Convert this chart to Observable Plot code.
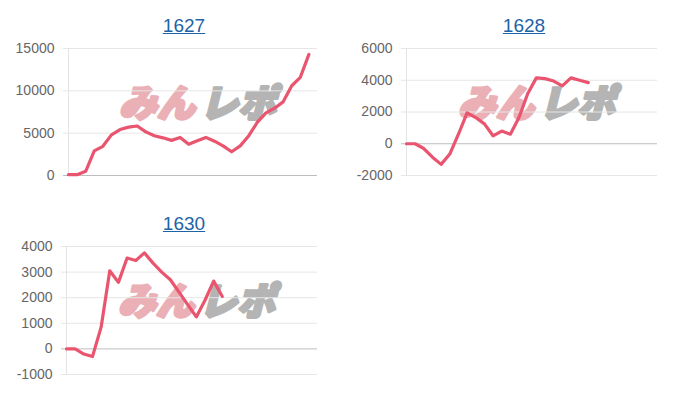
<!DOCTYPE html>
<html>
<head>
<meta charset="utf-8">
<script src="https://cdn.jsdelivr.net/npm/d3@7"></script>
<script src="https://cdn.jsdelivr.net/npm/@observablehq/plot@0.6"></script>
<style>
  body { margin: 0; background: #fff; }
  #root { position: relative; width: 700px; height: 400px; font-family: Arial, "Liberation Sans", sans-serif; }
  .title { position: absolute; width: 120px; text-align: center; font-size: 19px; line-height: 19px;
           color: #1d64a6; text-decoration: underline; }
  .chart { position: absolute; }
</style>
</head>
<body>
<div id="root"></div>
<script>
// ---- data ----
const titles = ["1627", "1628", "1630"];
const xLabelCount = 30;

const values1627 = [100, 100, 500, 2900, 3450, 4800, 5430, 5710, 5850, 5150,
                    4700, 4450, 4150, 4500, 3700, 4100, 4500, 4050, 3500, 2800,
                    3500, 4700, 6300, 7400, 7950, 8700, 10600, 11600, 14300];
const values1628 = [0, 0, -300, -850, -1300, -650, 600, 1950, 1650, 1250,
                    500, 800, 600, 1650, 3150, 4150, 4100, 3950, 3650, 4150,
                    4000, 3850];
const values1630 = [0, 0, -200, -300, 850, 3050, 2600, 3550, 3450, 3750,
                    3350, 3000, 2700, 2220, 1730, 1250, 1900, 2650, 2050];

const ticks1627 = [0, 5000, 10000, 15000];
const ticks1628 = [-2000, 0, 2000, 4000, 6000];
const ticks1630 = [-1000, 0, 1000, 2000, 3000, 4000];

const watermarkA = "みん";
const watermarkB = "レポ";

// ---- layout ----
const charts = [
  {title: titles[0], values: values1627, ticks: ticks1627, left: 0,   top: 40,  titleTop: 16,  height: 145, marginLeft: 68},
  {title: titles[1], values: values1628, ticks: ticks1628, left: 340, top: 40,  titleTop: 16,  height: 145, marginLeft: 66},
  {title: titles[2], values: values1630, ticks: ticks1630, left: 0,   top: 238, titleTop: 214, height: 146, marginLeft: 66}
];

const root = document.getElementById("root");
const lineColor = "#e9546e";

for (const c of charts) {
  const t = document.createElement("div");
  t.className = "title";
  t.textContent = c.title;
  t.style.left = (c.left + 124) + "px";
  t.style.top = c.titleTop + "px";
  root.appendChild(t);

  const ticks = c.ticks;
  const plot = Plot.plot({
    width: 340,
    height: c.height,
    marginTop: 8,
    marginBottom: 10,
    marginLeft: c.marginLeft,
    marginRight: 23,
    style: {fontFamily: 'Arial, "Liberation Sans", sans-serif', fontSize: "14px", color: "#666", background: "transparent"},
    x: {domain: [0, xLabelCount - 1], axis: null},
    y: {domain: [ticks[0], ticks[ticks.length - 1]], axis: null},
    marks: [
      Plot.text([watermarkA], {frameAnchor: "middle", dx: -36, dy: -7.5, text: d => d,
        fontSize: 38, fontWeight: 900, fontStyle: "italic", fill: "#eab0b6", stroke: "#eab0b6", strokeWidth: 3,
        fontFamily: '"Noto Sans CJK JP", sans-serif'}),
      Plot.text([watermarkB], {frameAnchor: "middle", dx: 45, dy: -7.5, text: d => d,
        fontSize: 38, fontWeight: 900, fontStyle: "italic", fill: "#b4b4b4", stroke: "#b4b4b4", strokeWidth: 3,
        fontFamily: '"Noto Sans CJK JP", sans-serif'}),
      Plot.ruleY(ticks.filter(v => v !== 0), {stroke: "#e6e6e6", insetLeft: -5}),
      Plot.ruleY([0], {stroke: "#bdbdbd", insetLeft: -5}),
      Plot.ruleX([0], {stroke: "#e3e3e3"}),
      Plot.axisY(ticks, {tickSize: 0, tickPadding: 14, fontSize: 14, tickFormat: d => String(d)}),
      Plot.line(c.values, {x: (d, i) => i, y: d => d, stroke: lineColor, strokeWidth: 3.2,
        strokeLinejoin: "round", strokeLinecap: "round"})
    ]
  });
  plot.classList.add("chart");
  plot.style.left = c.left + "px";
  plot.style.top = c.top + "px";
  root.appendChild(plot);
}
</script>
</body>
</html>
